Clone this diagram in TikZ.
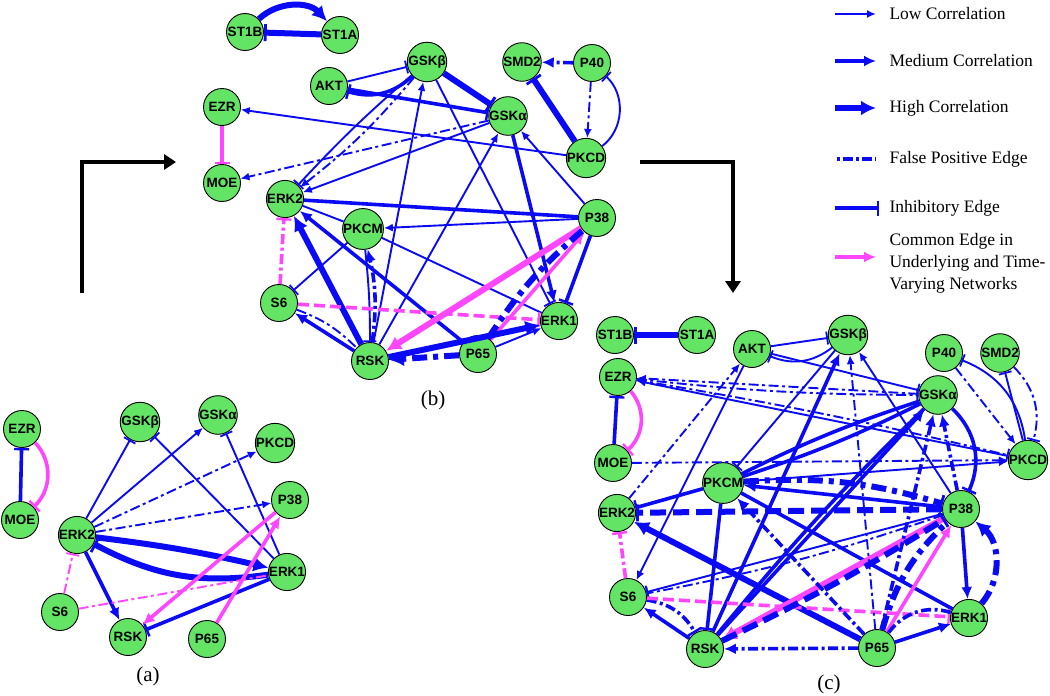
\documentclass[tikz,border=0pt]{standalone}
\usepackage{fontspec}
\setmainfont{Liberation Serif}
\newfontfamily\nodefont{Liberation Sans}
\usetikzlibrary{arrows.meta}
\definecolor{ngreen}{RGB}{100,228,100}
\definecolor{eblue}{RGB}{10,10,245}
\definecolor{emag}{RGB}{255,70,255}
\tikzset{
  gene/.style={circle,draw=black,line width=0.9pt,fill=ngreen,minimum size=37pt,inner sep=0pt,
    font=\nodefont\bfseries\fontsize{13.5}{14}\selectfont},
  lab/.style={font=\fontsize{21}{24}\selectfont},
  legtext/.style={anchor=west,align=left,font=\fontsize{17.5}{22}\selectfont},
  ed/.style={draw=eblue},
  lo/.style={ed,line width=1.9pt},
  me/.style={ed,line width=3.6pt},
  hv/.style={ed,line width=6pt},
  fpos/.style={dash pattern=on 10pt off 3.5pt on 3pt off 3.5pt},
  fposw/.style={dash pattern=on 15pt off 6pt on 5pt off 6pt},
  dsh/.style={dash pattern=on 11pt off 5pt},
  dshw/.style={dash pattern=on 16pt off 7pt},
  cmn/.style={draw=emag},
  LA/.style={-{Latex[length=9pt,width=8pt]}},
  MA/.style={-{Latex[length=12pt,width=11pt]}},
  HA/.style={-{Latex[length=15pt,width=15pt]}},
  LI/.style={-{Bar[width=13pt,line width=1.8pt]}},
  MI/.style={-{Bar[width=15pt,line width=2.4pt]}},
  HI/.style={-{Bar[width=17pt,line width=2.8pt]}},
  flow/.style={draw=black,line width=3.5pt,-{Triangle[length=12pt,width=15pt]}},
}
\begin{document}
\begin{tikzpicture}[x=1pt,y=-1pt]
\fill[white] (0,0) rectangle (1050,696);
\useasboundingbox (0,0) rectangle (1050,696);

% ---------------- flow arrows
\coordinate (fa1) at (82,293);
\coordinate (fa2) at (82,162);
\coordinate (fa3) at (176,162);
\coordinate (fb1) at (640,162);
\coordinate (fb2) at (733,162);
\coordinate (fb3) at (733,293);
\draw[flow] (fa1) -- (fa2) -- (fa3);
\draw[flow] (fb1) -- (fb2) -- (fb3);

% ---------------- legend
\coordinate (l1a) at (835,14);  \coordinate (l1b) at (876,14);
\coordinate (l2a) at (835,61);  \coordinate (l2b) at (876,61);
\coordinate (l3a) at (835,108); \coordinate (l3b) at (876,108);
\coordinate (l4a) at (837,159); \coordinate (l4b) at (876,159);
\coordinate (l5a) at (835,208); \coordinate (l5b) at (879,208);
\coordinate (l6a) at (835,257); \coordinate (l6b) at (876,257);
\draw[lo,LA] (l1a) -- (l1b);
\draw[me,MA] (l2a) -- (l2b);
\draw[hv,HA] (l3a) -- (l3b);
\draw[me,line width=4pt,dash pattern=on 3pt off 3pt on 10pt off 3pt] (l4a) -- (l4b);
\draw[me,MI] (l5a) -- (l5b);
\draw[me,cmn,MA] (l6a) -- (l6b);
\node[legtext] (t1) at (886,14) {Low Correlation};
\node[legtext] (t2) at (886,61) {Medium Correlation};
\node[legtext] (t3) at (886,108) {High Correlation};
\node[legtext] (t4) at (886,159) {False Positive Edge};
\node[legtext] (t5) at (886,208) {Inhibitory Edge};
\node[legtext] (t6) at (886,263) {Common Edge in\\Underlying and Time-\\Varying Networks};

% ---------------- panel (a)
\node[gene] (aEZR) at (22,429) {EZR};
\node[gene] (aGSKb) at (140,422) {GSKβ};
\node[gene] (aGSKa) at (218,415) {GSKα};
\node[gene] (aPKCD) at (275,443) {PKCD};
\node[gene] (aP38) at (290,500) {P38};
\node[gene] (aMOE) at (20,520) {MOE};
\node[gene] (aERK2) at (77,535) {ERK2};
\node[gene] (aERK1) at (287,572) {ERK1};
\node[gene] (aS6) at (60,612) {S6};
\node[gene] (aRSK) at (128,637) {RSK};
\node[gene] (aP65) at (207,639) {P65};
\node[lab] (labA) at (148,676) {(a)};

\draw[me,MI] (aMOE) -- (aEZR);
\draw[me,cmn,MI] (aEZR) to[bend left=45] (aMOE);
\draw[lo,LI] (aERK2) -- (aGSKb);
\draw[lo,LA] (aERK2) -- (aGSKa);
\draw[lo,fpos,LA] (aERK2) -- (aPKCD);
\draw[lo,fpos,LA] (aERK2) -- (aP38);
\draw[hv,HA] (aERK2) to[bend left=3] (aERK1);
\draw[hv,HI] (aERK1) to[bend left=18] (aERK2);
\draw[me,MA] (aERK2) -- (aRSK);
\draw[lo,LI] (aERK1) -- (aGSKb);
\draw[lo,LI] (aERK1) -- (aGSKa);
\draw[me,MI] (aERK1) -- (aRSK);
\draw[me,cmn,MA] (aP38) -- (aRSK);
\draw[me,cmn,MA] (aP65) -- (aP38);
\draw[lo,cmn,fpos,LI] (aS6) -- (aERK2);
\draw[lo,cmn,fpos] (aS6) -- (aERK1);

% ---------------- panel (b)
\node[gene] (bST1B) at (245,32) {ST1B};
\node[gene] (bST1A) at (340,35) {ST1A};
\node[gene] (bGSKb) at (427,62) {GSKβ};
\node[gene] (bSMD2) at (522,62) {SMD2};
\node[gene] (bP40) at (592,63) {P40};
\node[gene] (bAKT) at (329,86) {AKT};
\node[gene] (bEZR) at (222,107) {EZR};
\node[gene] (bGSKa) at (508,116) {GSKα};
\node[gene] (bPKCD) at (586,158) {PKCD};
\node[gene] (bMOE) at (222,183) {MOE};
\node[gene] (bERK2) at (285,199) {ERK2};
\node[gene] (bP38) at (597,218) {P38};
\node[gene] (bPKCM) at (363,229) {PKCM};
\node[gene] (bS6) at (279,303) {S6};
\node[gene] (bERK1) at (559,321) {ERK1};
\node[gene] (bRSK) at (370,361) {RSK};
\node[gene] (bP65) at (478,354) {P65};
\node[lab] (labB) at (433,400) {(b)};

\draw[hv,HA] (bST1B) to[bend left=45] (bST1A);
\draw[hv,HI] (bST1A) -- (bST1B);
\draw[me,fpos,MA] (bP40) -- (bSMD2);
\draw[hv,HI] (bPKCD) -- (bSMD2);
\draw[lo,fpos,LA] (bP40) -- (bPKCD);
\draw[lo,LI] (bPKCD) to[bend right=50] (bP40);
\draw[lo,LI] (bAKT) -- (bGSKb);
\draw[me,MI] (bGSKb) to[bend left=30] (bAKT);
\draw[me,MI] (bAKT) -- (bGSKa);
\draw[hv,HI] (bGSKb) -- (bGSKa);
\draw[lo,LA] (bPKCD) -- (bEZR);
\draw[lo,fpos,LA] (bGSKa) -- (bMOE);
\draw[me,cmn,MI] (bEZR) -- (bMOE);
\draw[lo,LA] (bGSKa) -- (bERK2);
\draw[lo,LI] (bGSKb) to[bend right=3] (bERK2);
\draw[lo,fpos,LA] (bGSKb) to[bend left=6] (bERK2);
\draw[lo,LA] (bRSK) -- (bGSKb);
\draw[lo,LI] (bGSKb) -- (bERK1);
\draw[me,MA] (bGSKa) -- (bERK1);
\draw[lo,LA] (bP38) -- (bGSKa);
\draw[lo,LA] (bRSK) -- (bGSKa);
\draw[me] (bP38) -- (bERK2);
\draw[lo,LA] (bP38) -- (bPKCM);
\draw[lo] (bERK2) -- (bPKCM);
\draw[hv,HA] (bRSK) -- (bERK2);
\draw[me,MA] (bP65) -- (bERK2);
\draw[lo,LI] (bPKCM) -- (bS6);
\draw[lo,LI] (bPKCM) to[bend left=3] (bRSK);
\draw[me,fpos,MA] (bRSK) to[bend right=10] (bPKCM);
\draw[lo] (bPKCM) -- (bERK1);
\draw[me,cmn,fpos,MI] (bS6) -- (bERK2);
\draw[me,cmn,dsh,MI] (bS6) -- (bERK1);
\draw[me,MA] (bRSK) -- (bS6);
\draw[lo,fpos] (bS6) to[bend left=12] (bRSK);
\draw[hv,cmn,HA] (bP38) -- (bRSK);
\draw[me,cmn,MA] (bP65) -- (bP38);
\draw[hv,fposw] (bP65) to[bend left=8] (bP38);
\draw[me,MI] (bP38) -- (bERK1);
\draw[hv,fposw,HA] (bP65) -- (bRSK);
\draw[hv,HA] (bRSK) -- (bERK1);
\draw[lo,LA] (bP65) -- (bERK1);

% ---------------- panel (c)
\node[gene] (cST1B) at (615,335) {ST1B};
\node[gene] (cST1A) at (697,335) {ST1A};
\node[gene] (cAKT) at (752,349) {AKT};
\node[gene] (cGSKb) at (848,335) {GSKβ};
\node[gene] (cP40) at (944,353) {P40};
\node[gene] (cSMD2) at (1000,353) {SMD2};
\node[gene] (cEZR) at (618,377) {EZR};
\node[gene] (cGSKa) at (938,395) {GSKα};
\node[gene] (cMOE) at (613,463) {MOE};
\node[gene] (cPKCD) at (1028,460) {PKCD};
\node[gene] (cPKCM) at (723,483) {PKCM};
\node[gene] (cERK2) at (617,513) {ERK2};
\node[gene] (cP38) at (961,509) {P38};
\node[gene] (cS6) at (628,597) {S6};
\node[gene] (cERK1) at (969,618) {ERK1};
\node[gene] (cRSK) at (705,649) {RSK};
\node[gene] (cP65) at (877,648) {P65};
\node[lab] (labC) at (829,684) {(c)};

\draw[hv,HI] (cST1A) -- (cST1B);
\draw[me,MI] (cMOE) -- (cEZR);
\draw[me,cmn,MI] (cEZR) to[bend left=45] (cMOE);
\draw[lo,LI] (cAKT) -- (cGSKb);
\draw[lo,LI] (cGSKb) to[bend left=30] (cAKT);
\draw[lo,LI] (cAKT) -- (cGSKa);
\draw[lo,fpos,LA] (cGSKa) -- (cEZR);
\draw[lo,fpos,LI] (cEZR) to[bend right=3] (cGSKa);
\draw[lo,LA] (cPKCD) -- (cEZR);
\draw[lo,fpos,LI] (cEZR) to[bend left=2] (cPKCD);
\draw[lo,fpos,LA] (cMOE) -- (cPKCD);
\draw[lo,LI] (cPKCD) to[bend right=30] (cP40);
\draw[lo,fpos,LA] (cP40) -- (cPKCD);
\draw[lo,LI] (cPKCD) -- (cSMD2);
\draw[lo,fpos,LI] (cSMD2) to[bend left=30] (cPKCD);
\draw[lo,fpos,LA] (cERK2) -- (cAKT);
\draw[lo,LA] (cAKT) -- (cS6);
\draw[lo,LI] (cGSKb) -- (cPKCM);
\draw[me,MA] (cRSK) -- (cGSKb);
\draw[me,MA] (cRSK) -- (cGSKa);
\draw[me] (cRSK) to[bend left=3] (cGSKa);
\draw[me] (cPKCM) to[bend left=4] (cGSKa);
\draw[me] (cPKCM) to[bend right=4] (cGSKa);
\draw[lo,LA] (cPKCM) -- (cPKCD);
\draw[me,MI] (cPKCM) -- (cERK2);
\draw[hv,dshw,HI] (cP38) -- (cERK2);
\draw[me,MA] (cP38) -- (cPKCM);
\draw[hv,fposw,HI] (cPKCM) to[bend left=10] (cP38);
\draw[me,MI] (cPKCM) -- (cRSK);
\draw[me] (cPKCM) -- (cERK1);
\draw[hv,HA] (cP65) -- (cERK2);
\draw[lo,LI] (cP38) -- (cS6);
\draw[lo,fpos,LI] (cP38) to[bend left=4] (cS6);
\draw[me,MA] (cRSK) -- (cS6);
\draw[me,fpos,MI] (cS6) to[bend left=25] (cRSK);
\draw[me,cmn,dsh,MI] (cS6) -- (cERK1);
\draw[me,cmn,fpos,MI] (cS6) -- (cERK2);
\draw[hv,cmn,HA] (cP38) -- (cRSK);
\draw[me,cmn,MA] (cP65) -- (cP38);
\draw[hv,dshw,HI] (cRSK) to[bend right=3] (cP38);
\draw[me,fpos,MA] (cP65) -- (cRSK);
\draw[me,MA] (cP65) -- (cERK1);
\draw[me,fpos] (cERK1) to[bend right=35] (cP65);
\draw[me,MA] (cP38) -- (cERK1);
\draw[hv,fposw,HA] (cERK1) to[bend right=45] (cP38);
\draw[me,MI] (cGSKa) to[bend left=35] (cP38);
\draw[me,fpos,MA] (cP38) -- (cGSKa);
\draw[me,fpos,MA] (cP65) -- (cGSKa);
\draw[lo,fpos,LA] (cP65) -- (cGSKb);
\draw[lo,LA] (cP38) -- (cGSKb);
\draw[me,fpos,MA] (cP65) -- (cPKCM);
\draw[hv,fposw] (cP65) to[bend left=15] (cP38);
\end{tikzpicture}
\end{document}
